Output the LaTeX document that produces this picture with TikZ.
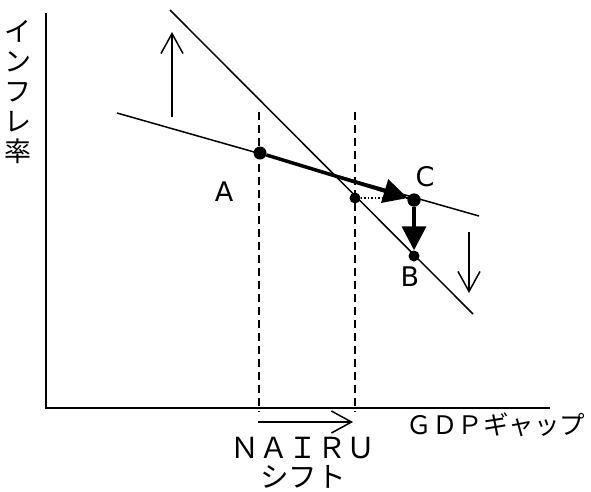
\documentclass[tikz,border=0pt]{standalone}
\usepackage{fontspec}
\setmainfont{Noto Sans CJK JP}
\newfontfamily\abcfont{DejaVu Sans}
\usetikzlibrary{arrows.meta}
\definecolor{Ink}{HTML}{000000}
\definecolor{Paper}{HTML}{FFFFFF}

\begin{document}
\begin{tikzpicture}[x=1pt,y=-1pt,every node/.style={text=Ink,font=\fontsize{27}{30}\selectfont},letter/.style={font=\abcfont\fontsize{27}{30}\selectfont},axis/.style={draw=Ink,line width=2pt},curve/.style={draw=Ink,line width=1.5pt},guide/.style={draw=Ink,line width=1.5pt,dash pattern=on 8pt off 5pt},dot/.style={circle,fill=Ink,inner sep=0pt,minimum size=13pt},smalldot/.style={circle,fill=Ink,inner sep=0pt,minimum size=11pt},shiftarrow/.style={draw=Ink,line width=1.5pt,-{Straight Barb[length=20pt,width=22pt]}},bigmove/.style={draw=Ink,line width=3.5pt,-{Triangle[length=24pt,width=24pt]}}]
\fill[Paper] (0,0) rectangle (591,491);
\useasboundingbox (0,0) rectangle (591,491);
% axes
\coordinate (ytop) at (46,13);
\coordinate (xend) at (550,408);
\draw[axis] (ytop) |- (xend);
% NAIRU guides
\foreach \x/\n in {259/a,355/b}{\draw[guide] (\x,112) coordinate (g\n top) -- (\x,412) coordinate (g\n bot);}
% the two lines
\coordinate (pc1) at (117,113); \coordinate (pc2) at (479,216);
\coordinate (lr1) at (170,10); \coordinate (lr2) at (473,314);
\draw[curve] (pc1) -- (pc2);
\draw[curve] (lr1) -- (lr2);
% points
\node[dot] (A) at (260,153){};
\node[dot] (C) at (414,200){};
\node[smalldot] (B) at (414,256){};
\node[smalldot] (M) at (355,198){};
\draw[Ink,dotted,line width=1.5pt] (M) -- (M -| C);
\draw[bigmove] (A) -- (C);
\draw[bigmove] (C) -- (B);
\node[dot] at (C){};
% shift arrows
\coordinate (up1) at (172,117); \coordinate (up2) at (172,32);
\coordinate (dn1) at (469,232); \coordinate (dn2) at (469,293);
\coordinate (ns1) at (258,422); \coordinate (ns2) at (353,422);
\draw[shiftarrow] (up1) -- (up2);
\draw[shiftarrow] (dn1) -- (dn2);
\draw[shiftarrow] (ns1) -- (ns2);
% labels
\node[letter] (labA) at (224,192){A};
\node[letter] (labC) at (425,177){C};
\node[letter] (labB) at (410,277){B};
\node[font=\fontsize{25.5}{30}\selectfont] (gdp) at (496,425){ＧＤＰギャップ};
\node[font=\fontsize{29}{30}\selectfont] (nairu) at (303,448){ＮＡＩＲＵ};
\node[font=\fontsize{28.5}{30}\selectfont] (shiftlab) at (303,477){シフト};
\node[align=center,font=\fontsize{27}{30}\selectfont] (infl) at (18,92){イ\\ン\\フ\\レ\\率};
\end{tikzpicture}
\end{document}
